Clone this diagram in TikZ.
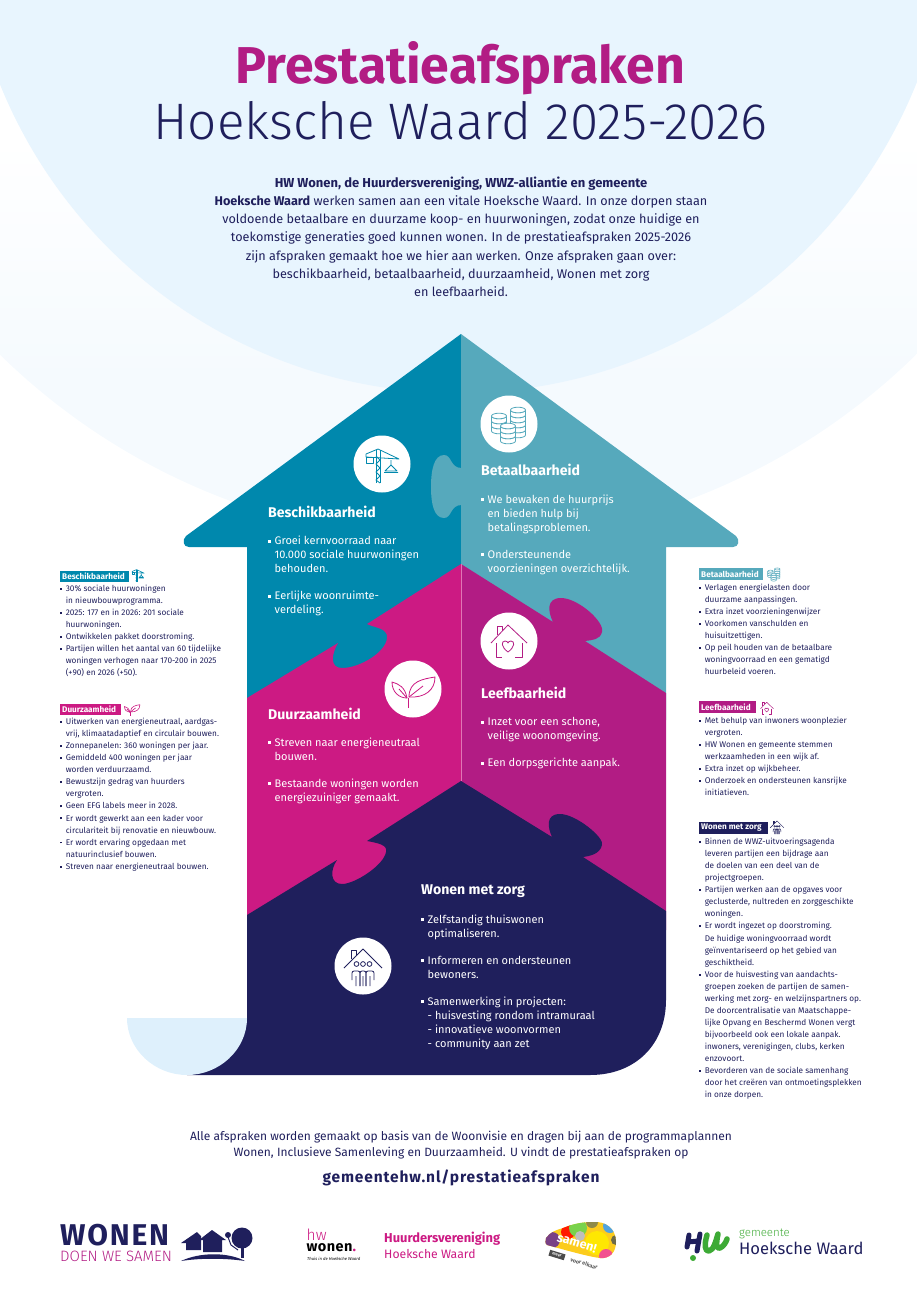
\documentclass[tikz,border=0pt]{standalone}
\usepackage{fontspec}
\setmainfont{Fira Sans}
\newfontfamily\lightf{Fira Sans Light}
\definecolor{navy}{HTML}{1F1F5C}
\definecolor{tealb}{HTML}{0088AD}
\definecolor{teall}{HTML}{56A9BC}
\definecolor{magen}{HTML}{CC1A83}
\definecolor{purp}{HTML}{B21C84}
\definecolor{palea}{HTML}{E8F5FE}
\definecolor{paleb}{HTML}{DEF0FC}
\definecolor{paleo}{HTML}{F5FAFE}
\definecolor{hwgreen}{HTML}{3DAA35}
\newlength{\bw}
\newcommand{\bl}{\makebox[\bw][l]{\rule[.2em]{.24em}{.24em}}}
\newcommand{\ind}{\hspace*{\bw}}
\newcommand{\iconcrane}[1]{%
 \draw[#1] (-6,-14)--(-6,19) (-2,-14)--(-2,19);
 \draw[#1] (-6,-8)--(-2,-4)--(-6,0)--(-2,4)--(-6,8)--(-2,12)--(-6,16)--(-2,19);
 \draw[#1] (-16,-10)--(-4,-15)--(17,-5)--(-16,-7)--cycle;
 \draw[#1] (-16,-7) rectangle (-9,-1);
 \draw[#1] (9,-4)--(9,1) (3,7)--(15,7)--(9,1)--cycle (2,8.5)--(16,8.5);}
\newcommand{\coin}[5]{%
 \foreach \k in {#4,...,0}{\draw[#1,fill=white] (#2-7.5,#3+\k*#5) -- (#2-7.5,#3+\k*#5+#5) arc[start angle=180,end angle=360,x radius=7.5,y radius=-2.8] -- (#2+7.5,#3+\k*#5) arc[start angle=0,end angle=180,x radius=7.5,y radius=2.8];}
 \draw[#1,fill=white] (#2,#3) ellipse[x radius=7.5,y radius=2.8];}
\newcommand{\iconcoins}[1]{\coin{#1}{9}{-14}{4}{5}\coin{#1}{-10}{-8}{2}{5}\coin{#1}{-1}{2}{2}{5}}
\newcommand{\iconhouse}[1]{%
 \draw[#1] (-18,2)--(-1,-16)--(18,2);
 \draw[#1] (-13,2)--(-13,16)--(-7,16) (13,2)--(13,16)--(6,16);
 \draw[#1] (-12,-6)--(-12,-15)--(-7,-15)--(-7,-10);
 \draw[#1] (-1,11) .. controls (-8,6) and (-8,0) .. (-4,0) .. controls (-2.5,0) and (-1,1) .. (-1,2) .. controls (-1,1) and (.5,0) .. (2,0) .. controls (6,0) and (6,6) .. (-1,11) -- cycle;}
\newcommand{\iconleaf}[1]{%
 \draw[#1] (-5,19)--(-5,9);
 \draw[#1] (-4,8) .. controls (-4,-8) and (10,-10) .. (22,-12) .. controls (22,1) and (12,9) .. (-4,8) -- cycle;
 \draw[#1] (-6,9) .. controls (-8,-2) and (-14,-5) .. (-21,-7) .. controls (-21,3) and (-14,9) .. (-6,9) -- cycle;
 \draw[#1] (-4,8) -- (10,-3) (-6,9) -- (-14,0);}
\newcommand{\iconcare}[1]{%
 \draw[#1] (-19,2)--(0,-17)--(19,2);
 \draw[#1] (-11.5,-7)--(-11.5,-16)--(-7,-16)--(-7,-11);
 \draw[#1] (-6.5,-2) circle[radius=2.4] (0,-2) circle[radius=2.4] (6.5,-2) circle[radius=2.4];
 \draw[#1,rounded corners=2pt] (-11,14)--(-11,5)--(-3,5)--(-3,20) (-7,20)--(-7,10);
 \draw[#1,rounded corners=2pt] (-3,20)--(-3,5)--(3,5)--(3,20) (0,20)--(0,10);
 \draw[#1,rounded corners=2pt] (3,20)--(3,5)--(11,5)--(11,14) (7,20)--(7,10);}
\tikzset{
 sect/.style={anchor=north west,inner sep=0pt,text=white,font=\fontsize{14.1}{15}\bfseries\selectfont},
 body/.style={anchor=north west,inner sep=0pt,text=white,align=left,font=\setlength{\bw}{6.5pt}\fontsize{11}{14}\selectfont},
 side/.style={anchor=north west,inner sep=0pt,text=navy,align=left,font=\setlength{\bw}{5.6pt}\fontsize{8.25}{12.05}\selectfont},
 tag/.style={anchor=west,inner sep=0pt,text=white,font=\fontsize{8.2}{9}\bfseries\selectfont},
 disc/.style={fill=white,draw=none},
 logo/.style={anchor=west,inner sep=0pt},
}
\begin{document}
\begin{tikzpicture}[x=1pt,y=-1pt,line join=round]
\useasboundingbox (0,0) rectangle (917,1299);
% background
\begin{scope}
 \clip (0,0) rectangle (917,1299);
 \begin{scope}
  \clip (458,-113) circle[radius=654.6pt];
  \shade[top color=white,bottom color=paleo] (0,140) rectangle (917,380);
  \fill[paleo] (0,379.5) rectangle (917,560);
 \end{scope}
 \fill[palea] (458,-101) circle[radius=494pt];
\end{scope}
% house
\fill[tealb] (461,334) -- (186,536) .. controls (182,540) and (183,547) .. (189,547) -- (247,547) -- (247,720) -- (461,720) -- cycle;
\fill[teall] (461,334) -- (736,536) .. controls (740,540) and (739,547) .. (733,547) -- (666,547) -- (666,720) -- (461,720) -- cycle;
\fill[teall] (461.5,468) .. controls (450,468) and (452,455) .. (444,455) .. controls (434,455) and (431,470) .. (431,487) .. controls (431,504) and (434,518) .. (444,518) .. controls (452,518) and (450,505) .. (461.5,505) -- cycle;
\fill[magen] (461,564) -- (367,624) .. controls (375,628) and (388,628) .. (387,638) .. controls (386,652) and (360,668) .. (342,668) .. controls (330,668) and (331,655) .. (338,643) -- (247,698) -- (247,930) -- (461,930) -- cycle;
\fill[purp] (461,564) -- (553,622) .. controls (548,612) and (546,598) .. (561,598) .. controls (578,598) and (605,622) .. (602,632) .. controls (600,640) and (592,640) .. (585,641) -- (666,693) -- (666,930) -- (461,930) -- cycle;
\draw[color=magen!60!white,line width=.4pt] (461,564)--(461,781);
\fill[navy] (461,781) -- (552,837) .. controls (548,828) and (545,814) .. (560,814) .. controls (576,814) and (605,838) .. (602,845) .. controls (600,854) and (590,856) .. (583,857) -- (666,911) -- (666,1000) .. controls (666,1045) and (635,1075) .. (590,1075) -- (187,1075) -- (187,1018) -- (247,1018) -- (247,915) -- (337,860) .. controls (330,870) and (330,884) .. (342,884) .. controls (355,884) and (384,865) .. (386,852) .. controls (388,845) and (378,843) .. (367,841) -- cycle;
\fill[paleb] (127,1018) .. controls (127,1050) and (155,1075) .. (187,1075) .. controls (219,1075) and (247,1050) .. (247,1018) -- cycle;
% discs and icons
\fill[disc] (382,464) circle[radius=28.5pt];
\fill[disc] (509,424) circle[radius=28.5pt];
\fill[disc] (509,641) circle[radius=28.5pt];
\fill[disc] (413,689) circle[radius=28.5pt];
\fill[disc] (363,966) circle[radius=28.5pt];
\begin{scope}[shift={(382,464)}]\iconcrane{tealb,line width=.8pt}\end{scope}
\begin{scope}[shift={(509,424)}]\iconcoins{teall,line width=.8pt}\end{scope}
\begin{scope}[shift={(509,641)}]\iconhouse{purp,line width=.8pt}\end{scope}
\begin{scope}[shift={(413,689)}]\iconleaf{magen,line width=.8pt}\end{scope}
\begin{scope}[shift={(363,966)}]\iconcare{navy,line width=.8pt}\end{scope}
% title
\node[inner sep=0pt,anchor=base,text=purp,font=\fontsize{51.8}{52}\bfseries\selectfont] (title) at (460.5,83) {Prestatieafspraken};
\node[inner sep=0pt,anchor=base,text=navy,font=\fontsize{51.3}{52}\lightf] (subtitle) at (460.5,139) {Hoeksche Waard 2025-2026};
\node[inner sep=0pt,anchor=north,align=center,text=navy,font=\fontsize{12.65}{18.2}\selectfont] (intro) at (461,176.5) {\fontsize{13}{18.2}\selectfont\textbf{HW Wonen, de Huurdersvereniging, WWZ-alliantie en gemeente}\\
\fontsize{12.65}{18.2}\selectfont\textbf{Hoeksche Waard} werken samen aan een vitale Hoeksche Waard. In onze dorpen staan\\
voldoende betaalbare en duurzame koop- en huurwoningen, zodat onze huidige en\\
toekomstige generaties goed kunnen wonen. In de prestatieafspraken 2025-2026\\
zijn afspraken gemaakt hoe we hier aan werken. Onze afspraken gaan over:\\
beschikbaarheid, betaalbaarheid, duurzaamheid, Wonen met zorg\\
en leefbaarheid.};
% house text
\node[sect] (s1) at (268,505.5) {Beschikbaarheid};
\node[body] (b1) at (268,536.2) {\bl Groei kernvoorraad naar\\\ind 10.000 sociale huurwoningen\\\ind behouden.\\[13pt]\bl Eerlijke woonruimte-\\\ind verdeling.};
\node[sect] (s2) at (481,464) {Betaalbaarheid};
\node[body] (b2) at (481,494.5) {\bl We bewaken de huurprijs\\\ind en bieden hulp bij\\\ind betalingsproblemen.\\[13pt]\bl Ondersteunende\\\ind voorzieningen overzichtelijk.};
\node[sect] (s3) at (268,708) {Duurzaamheid};
\node[body] (b3) at (268,737.5) {\bl Streven naar energieneutraal\\\ind bouwen.\\[13pt]\bl Bestaande woningen worden\\\ind energiezuiniger gemaakt.};
\node[sect] (s4) at (481,687) {Leefbaarheid};
\node[body] (b4) at (481,717.5) {\bl Inzet voor een schone,\\\ind veilige woonomgeving.\\[13pt]\bl Een dorpsgerichte aanpak.};
\node[sect] (s5) at (421,885) {Wonen met zorg};
\node[body] (b5) at (421,914.5) {\bl Zelfstandig thuiswonen\\\ind optimaliseren.\\[13pt]\bl Informeren en ondersteunen\\\ind bewoners.\\[13pt]\bl Samenwerking in projecten:\\\ind - huisvesting rondom intramuraal\\\ind - innovatieve woonvormen\\\ind - community aan zet};
% side tags
\fill[tealb] (60,571) rectangle (129,582);
\node[tag] (t1) at (62,576.5) {Beschikbaarheid};
\begin{scope}[shift={(138,575)},scale=.36]\iconcrane{tealb,line width=.6pt}\end{scope}
\node[side] (d1) at (60,585) {\bl 30\% sociale huurwoningen\\\ind in nieuwbouwprogramma.\\\bl 2025: 177 en in 2026: 201 sociale\\\ind huurwoningen.\\\bl Ontwikkelen pakket doorstroming.\\\bl Partijen willen het aantal van 60 tijdelijke\\\ind woningen verhogen naar 170-200 in 2025\\\ind (+90) en 2026 (+50).};
\fill[magen] (60,704) rectangle (121,715);
\node[tag] (t2) at (62,709.5) {Duurzaamheid};
\begin{scope}[shift={(132,709)},scale=.36]\iconleaf{magen,line width=.6pt}\end{scope}
\node[side] (d2) at (60,718) {\bl Uitwerken van energieneutraal, aardgas-\\\ind vrij, klimaatadaptief en circulair bouwen.\\\bl Zonnepanelen: 360 woningen per jaar.\\\bl Gemiddeld 400 woningen per jaar\\\ind worden verduurzaamd.\\\bl Bewustzijn gedrag van huurders\\\ind vergroten.\\\bl Geen EFG labels meer in 2028.\\\bl Er wordt gewerkt aan een kader voor\\\ind circulariteit bij renovatie en nieuwbouw.\\\bl Er wordt ervaring opgedaan met\\\ind natuurinclusief bouwen.\\\bl Streven naar energieneutraal bouwen.};
\fill[teall] (699,568) rectangle (763,580);
\node[tag] (t3) at (701,574) {Betaalbaarheid};
\begin{scope}[shift={(774,574)},scale=.36]\iconcoins{teall,line width=.5pt}\end{scope}
\node[side] (d3) at (699,584) {\bl Verlagen energielasten door\\\ind duurzame aanpassingen.\\\bl Extra inzet voorzieningenwijzer\\\bl Voorkomen vanschulden en\\\ind huisuitzettigen.\\\bl Op peil houden van de betaalbare\\\ind woningvoorraad en een gematigd\\\ind huurbeleid voeren.};
\fill[purp] (699,701) rectangle (756,713);
\node[tag] (t4) at (701,707) {Leefbaarheid};
\begin{scope}[shift={(767,708)},scale=.36]\iconhouse{purp,line width=.5pt}\end{scope}
\node[side] (d4) at (699,717) {\bl Met behulp van inwoners woonplezier\\\ind vergroten.\\\bl HW Wonen en gemeente stemmen\\\ind werkzaamheden in een wijk af.\\\bl Extra inzet op wijkbeheer.\\\bl Onderzoek en ondersteunen kansrijke\\\ind initiatieven.};
\fill[navy] (699,822) rectangle (768,834);
\node[tag] (t5) at (701,828) {Wonen met zorg};
\begin{scope}[shift={(777,827)},scale=.36]\iconcare{navy,line width=.5pt}\end{scope}
\node[side] (d5) at (699,838) {\bl Binnen de WWZ-uitvoeringsagenda\\\ind leveren partijen een bijdrage aan\\\ind de doelen van een deel van de\\\ind projectgroepen.\\\bl Partijen werken aan de opgaves voor\\\ind geclusterde, nultreden en zorggeschikte\\\ind woningen.\\\bl Er wordt ingezet op doorstroming.\\\ind De huidige woningvoorraad wordt\\\ind geïnventariseerd op het gebied van\\\ind geschiktheid.\\\bl Voor de huisvesting van aandachts-\\\ind groepen zoeken de partijen de samen-\\\ind werking met zorg- en welzijnspartners op.\\\ind De doorcentralisatie van Maatschappe-\\\ind lijke Opvang en Beschermd Wonen vergt\\\ind bijvoorbeeld ook een lokale aanpak.\\\ind inwoners, verenigingen, clubs, kerken\\\ind enzovoort.\\\bl Bevorderen van de sociale samenhang\\\ind door het creëren van ontmoetingsplekken\\\ind in onze dorpen.};
% footer
\node[inner sep=0pt,anchor=north,align=center,text=navy,font=\fontsize{12}{16}\selectfont] (foot) at (461,1131) {Alle afspraken worden gemaakt op basis van de Woonvisie en dragen bij aan de programmaplannen\\Wonen, Inclusieve Samenleving en Duurzaamheid. U vindt de prestatieafspraken op};
\node[inner sep=0pt,anchor=center,text=navy,font=\fontsize{15.5}{16}\bfseries\selectfont\addfontfeature{LetterSpace=5.6}] (url) at (461,1178) {gemeentehw.nl/prestatieafspraken};
% logos
\node[logo,text=navy,font=\fontsize{30}{30}\bfseries\selectfont\addfontfeature{LetterSpace=6}] (wonen) at (60,1235.5) {WONEN};
\node[logo,text=purp,font=\fontsize{15}{15}\lightf] (doen) at (60,1256) {DOEN WE SAMEN};
\fill[navy] (181,1261) .. controls (200,1252) and (228,1252) .. (245,1261) .. controls (225,1258) and (200,1258) .. (181,1261) -- cycle;
\fill[navy] (181,1243)--(197,1232)--(201,1236)--(201,1250)--(186,1250)--(186,1243)--cycle;
\fill[navy] (199,1240)--(212,1230)--(226,1240)--(222,1240)--(222,1252)--(203,1252)--(203,1240)--cycle;
\fill[navy] (242,1238) circle[radius=10.5pt] (228,1235) circle[radius=3pt];
\fill[navy] (240.5,1240) rectangle (243.5,1258);
\draw[navy,line width=1pt] (228,1237)--(231,1245)--(238,1250);
\node[logo,text=magen,font=\fontsize{15.5}{16}\lightf] (hw) at (306.5,1234.5) {hw};
\node[logo,text=black,font=\fontsize{14.5}{15}\bfseries\selectfont\addfontfeature{LetterSpace=3}] (wonenb) at (306.5,1248) {wonen\textcolor{magen}{.}};
\node[logo,text=black,font=\fontsize{4.2}{5}\itshape\selectfont] (thuis) at (307,1258.5) {Thuis in de Hoeksche Waard};
\node[logo,text=magen,font=\fontsize{12.9}{13}\bfseries\selectfont] (huur) at (384,1239) {Huurdersvereniging};
\node[logo,text=magen,font=\fontsize{12.2}{13}\selectfont] (hoek) at (384,1254) {Hoeksche Waard};
\begin{scope}
 \clip (546,1238) .. controls (550,1232) and (556,1230) .. (563,1228) .. controls (575,1223) and (585,1222) .. (593,1222) .. controls (605,1221) and (616,1228) .. (616,1242) .. controls (616,1252) and (610,1259) .. (600,1258) .. controls (590,1257) and (565,1250) .. (547,1245) .. controls (545,1244) and (545,1240) .. (546,1238) -- cycle;
 \fill[yellow!60!orange!90!white] (540,1215) rectangle (620,1265);
 \fill[purple!60!blue!50!gray] (552,1240) circle[radius=8pt];
 \fill[red!80!orange] (568,1232) circle[radius=7pt];
 \fill[green!50!olive!70] (578,1228) circle[radius=9pt];
 \fill[gray!50] (580,1236) circle[radius=5pt];
 \fill[olive!50!gray] (592,1222) circle[radius=6pt];
 \fill[yellow!90!orange] (597,1243) circle[radius=12pt];
 \fill[cyan!70!blue!70] (610,1226) circle[radius=7pt];
 \fill[olive!50!gray!70!black] (616,1240) circle[radius=5pt];
 \fill[magenta!70!red!70] (606,1256) circle[radius=7pt];
\end{scope}
\node[inner sep=0pt,rotate=-17,text=white,font=\fontsize{12.5}{13}\bfseries\selectfont] (samen) at (577,1243) {samen!};
\fill[gray!60!black,rotate around={-17:(557,1255)}] (549,1252) rectangle (565,1258);
\node[inner sep=0pt,rotate=-17,text=white,font=\fontsize{4}{4}\bfseries\selectfont] (meer) at (557,1255) {meer};
\node[inner sep=0pt,rotate=-17,text=gray!70!black,font=\fontsize{5.4}{6}\bfseries\selectfont] (elkaar) at (584,1263.5) {voor elkaar};
\draw[navy,line width=5pt,line cap=round] (689,1235)--(687,1247) (700,1234)--(697,1251) (688,1242)--(698,1241);
\fill[hwgreen] (693,1258) circle[radius=3pt];
\draw[color=hwgreen,line width=5.5pt,line cap=round] (707,1235) .. controls (704,1245) and (705,1252) .. (709,1251) .. controls (714,1250) and (716,1240) .. (718,1234) .. controls (716,1243) and (716,1250) .. (720,1248) .. controls (724,1246) and (726,1242) .. (727,1239);
\node[logo,text=hwgreen,font=\fontsize{11.5}{12}\lightf] (gem) at (739,1234) {gemeente};
\node[logo,text=navy,font=\fontsize{16.6}{17}\selectfont] (hwaard) at (739,1248) {Hoeksche Waard};
\end{tikzpicture}
\end{document}
